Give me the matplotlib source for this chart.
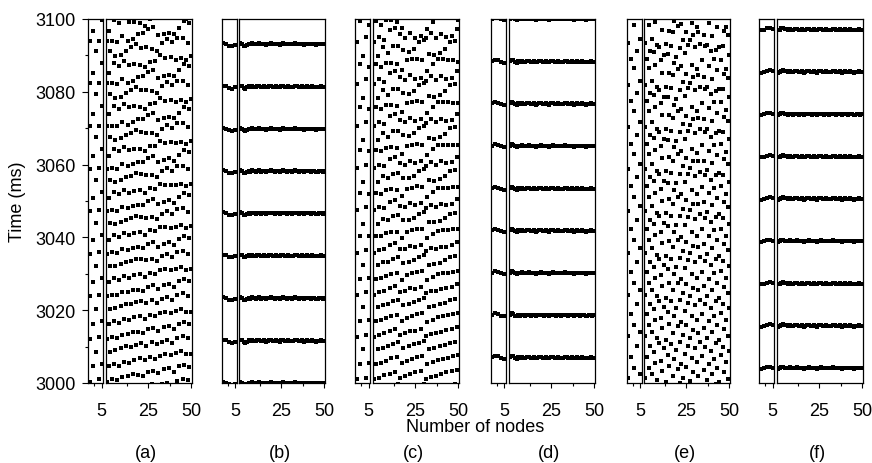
import numpy as np
import matplotlib.pyplot as plt
from matplotlib.ticker import FixedLocator, NullLocator

plt.rcParams['font.family'] = ['Liberation Sans', 'DejaVu Sans']
plt.rcParams['font.size'] = 13

# ---- data ----
panel_labels = ['(a)', '(b)', '(c)', '(d)', '(e)', '(f)']
nodes = np.arange(1, 51)

# asynchronous panels: first firing time of each node (ms after 3000) and its period (ms)
a_phase = [0.4, 4.8, 8.6, 1.1, 5.3, 9.2, 0.9, 4.6, 9.7, 1.6,
           5.9, 10.1, 2.0, 5.5, 9.8, 2.6, 6.4, 10.5, 2.2, 6.9,
           10.9, 1.8, 6.2, 10.3, 2.9, 7.1, 11.2, 3.4, 6.6, 10.6,
           2.7, 7.5, 11.4, 3.8, 8.0, 0.1, 4.2, 7.6, 11.0, 3.1,
           8.3, 0.5, 4.7, 8.8, 1.2, 5.0, 8.1, 0.7, 4.4, 7.9]
a_period = [11.7, 11.5, 11.8, 11.6, 11.8, 11.5, 11.6, 11.8, 11.5, 11.7,
            11.8, 11.6, 11.5, 11.7, 11.8, 11.5, 11.6, 11.8, 11.7, 11.5,
            11.6, 11.8, 11.5, 11.7, 11.8, 11.6, 11.5, 11.8, 11.7, 11.5,
            11.6, 11.8, 11.7, 11.5, 11.6, 11.8, 11.5, 11.7, 11.8, 11.6,
            11.5, 11.8, 11.6, 11.5, 11.7, 11.8, 11.5, 11.6, 11.8, 11.7]

c_phase = [1.0, 5.1, 9.3, 1.5, 5.6, 9.7, 2.2, 6.1, 10.2, 2.5,
           6.8, 10.7, 3.0, 7.1, 11.3, 1.5, 5.4, 9.6, 2.0, 6.0,
           10.3, 2.6, 6.5, 10.6, 2.9, 7.2, 11.1, 3.4, 7.5, 11.5,
           1.2, 5.2, 9.3, 1.7, 5.7, 9.6, 2.0, 6.3, 10.1, 2.4,
           6.5, 10.5, 3.0, 6.9, 11.0, 3.3, 7.4, 11.4, 3.7, 7.8]
c_period = [11.6, 11.8, 11.5, 11.7, 11.6, 11.8, 11.5, 11.7, 11.5, 11.8,
            11.6, 11.7, 11.8, 11.5, 11.6, 11.8, 11.5, 11.7, 11.6, 11.8,
            11.5, 11.7, 11.8, 11.6, 11.5, 11.7, 11.8, 11.5, 11.6, 11.8,
            11.7, 11.5, 11.6, 11.8, 11.7, 11.5, 11.6, 11.8, 11.5, 11.7,
            11.8, 11.6, 11.5, 11.7, 11.8, 11.5, 11.6, 11.8, 11.7, 11.5]

e_phase = [1.3, 7.2, 4.0, 10.1, 2.6, 8.4, 5.5, 0.8, 11.0, 6.1,
           3.3, 9.5, 0.2, 7.8, 4.6, 10.8, 2.0, 6.7, 9.0, 3.8,
           11.4, 5.1, 1.5, 8.1, 4.3, 10.3, 0.6, 6.9, 2.9, 9.7,
           5.8, 1.9, 11.2, 7.4, 3.6, 10.0, 0.9, 5.3, 8.7, 2.4,
           6.5, 11.1, 4.1, 0.3, 7.6, 9.9, 3.0, 5.9, 1.1, 8.9]
e_period = [11.5, 11.7, 11.8, 11.6, 11.5, 11.8, 11.7, 11.5, 11.6, 11.8,
            11.7, 11.5, 11.6, 11.8, 11.5, 11.7, 11.8, 11.6, 11.5, 11.8,
            11.5, 11.7, 11.6, 11.8, 11.5, 11.8, 11.7, 11.5, 11.6, 11.8,
            11.5, 11.8, 11.7, 11.6, 11.5, 11.8, 11.5, 11.7, 11.8, 11.6,
            11.8, 11.5, 11.7, 11.5, 11.6, 11.8, 11.7, 11.5, 11.8, 11.6]

# synchronous panels: burst times (ms)
b_bursts = [3000.0, 3011.6, 3023.3, 3035.0, 3046.6, 3058.2, 3069.8, 3081.4, 3093.1]
d_bursts = [3007.0, 3018.6, 3030.2, 3041.8, 3053.4, 3065.1, 3076.7, 3088.3, 3100.0]
f_bursts = [3004.1, 3015.7, 3027.3, 3039.0, 3050.6, 3062.2, 3073.8, 3085.5, 3097.1]

# small per-node spread around each burst (ms)
sync_jitter = [0.2, 0.1, -0.2, -0.3, 0.0, 0.1, -0.1, 0.2, 0.0, -0.1,
               0.1, 0.2, -0.1, 0.0, 0.1, -0.2, 0.0, 0.1, 0.2, 0.0,
               -0.1, 0.1, 0.0, -0.2, 0.1, 0.2, 0.0, -0.1, 0.1, 0.0,
               -0.1, 0.0, 0.2, 0.1, -0.1, 0.0, 0.1, -0.2, 0.0, 0.1,
               0.0, -0.1, 0.1, 0.0, -0.2, -0.1, 0.0, 0.1, -0.1, 0.0]
b_first = [0.3, 0.1, -0.4, -0.5, -0.2]
d_first = [0.1, 0.5, 0.3, -0.1, -0.3]
f_first = [-0.2, 0.0, 0.3, 0.4, 0.1]

yticks = [3000, 3020, 3040, 3060, 3080, 3100]


def async_spikes(phase, per):
    xs, ys = [], []
    for n, p, T in zip(nodes, phase, per):
        t = 3000 + p + T * np.arange(-1, 10)
        t = t[(t > 2998) & (t < 3102)]
        xs += [n] * len(t)
        ys += list(t)
    return np.array(xs), np.array(ys)


def sync_spikes(bursts, first):
    jit = np.array(first + sync_jitter[5:])
    xs, ys = [], []
    for b in bursts:
        xs += list(nodes)
        ys += list(b + jit)
    return np.array(xs), np.array(ys)


spikes = [async_spikes(a_phase, a_period), sync_spikes(b_bursts, b_first),
          async_spikes(c_phase, c_period), sync_spikes(d_bursts, d_first),
          async_spikes(e_phase, e_period), sync_spikes(f_bursts, f_first)]

# ---- layout in pixels ----
W, H = 872, 464
top, bottom = 20, 384
narrow_left = [88, 221.5, 355, 490.7, 626.7, 759]
wide_left = [106, 239.3, 373.3, 509, 644.3, 777]
narrow_w, wide_w = 15.3, 86

fig = plt.figure(figsize=(W / 100, H / 100), dpi=100)


def px_axes(left, width):
    return fig.add_axes([left / W, 1 - bottom / H, width / W, (bottom - top) / H])


for i in range(6):
    xs, ys = spikes[i]
    axn = px_axes(narrow_left[i], narrow_w)
    axw = px_axes(wide_left[i], wide_w)
    m = xs <= 5
    axn.plot(xs[m], ys[m], 's', color='k', ms=3.0, mew=0)
    axw.plot(xs, ys, 's', color='k', ms=3.0, mew=0)

    axn.set_xlim(0.5, 5.5)
    axw.set_xlim(0.5, 50.5)
    for ax in (axn, axw):
        ax.set_ylim(3000, 3100)
        for s in ax.spines.values():
            s.set_linewidth(0.9)
        ax.tick_params(axis='x', which='major', direction='out', length=3.5, width=0.8, pad=10)
        ax.tick_params(axis='x', which='minor', direction='out', length=2.5, width=0.8)
    axn.xaxis.set_major_locator(FixedLocator([5]))
    axn.xaxis.set_minor_locator(FixedLocator([2.5]))
    axw.xaxis.set_major_locator(FixedLocator([25, 50]))
    axw.xaxis.set_minor_locator(FixedLocator([12.5, 37.5]))

    axw.yaxis.set_major_locator(NullLocator())
    axw.yaxis.set_minor_locator(NullLocator())
    if i == 0:
        axn.yaxis.set_major_locator(FixedLocator(yticks))
        axn.yaxis.set_minor_locator(FixedLocator([3010, 3030, 3050, 3070, 3090]))
        axn.tick_params(axis='y', which='major', direction='out', length=4, width=0.8, pad=5)
        axn.tick_params(axis='y', which='minor', direction='out', length=2.5, width=0.8)
    else:
        axn.yaxis.set_major_locator(NullLocator())
        axn.yaxis.set_minor_locator(NullLocator())

    fig.text((narrow_left[i] + 58) / W, 1 - 454 / H, panel_labels[i], ha='center', va='center')

fig.text(475 / W, 1 - 428 / H, 'Number of nodes', ha='center', va='center')
fig.text(18 / W, 1 - 202 / H, 'Time (ms)', ha='center', va='center', rotation=90)

fig.savefig('out.png', dpi=100)
